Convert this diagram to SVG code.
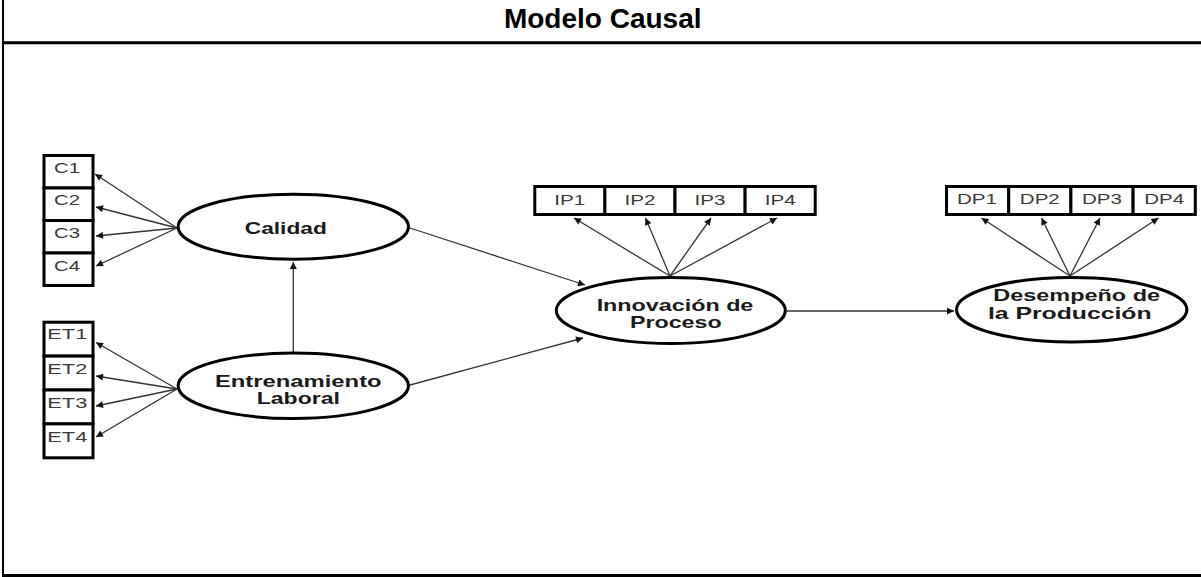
<svg xmlns="http://www.w3.org/2000/svg" width="1201" height="577" viewBox="0 0 1201 577">
  <defs>
    <marker id="arrow" viewBox="0 0 10 10" refX="10" refY="5" markerWidth="9" markerHeight="7" markerUnits="userSpaceOnUse" orient="auto">
      <path d="M0,0 L10,5 L0,10 Z" fill="#111"/>
    </marker>
    <style>
      .frame { stroke: #000; fill: none; }
      .latent { fill: #fff; stroke: #000; stroke-width: 3; }
      .item { fill: #fff; stroke: #000; stroke-width: 3; }
      .path { stroke: #333; stroke-width: 1.3; fill: none; marker-end: url(#arrow); }
      .title { font-family: "Liberation Sans", Arial, sans-serif; font-weight: bold; font-size: 28px; fill: #000; text-anchor: middle; }
      .lname { font-family: "Liberation Sans", Arial, sans-serif; font-weight: bold; font-size: 17px; fill: #1a1a1a; text-anchor: middle; }
      .iname { font-family: "Liberation Sans", Arial, sans-serif; font-size: 15px; fill: #3a3a3a; text-anchor: middle; }
    </style>
  </defs>

  <rect width="1201" height="577" fill="#fff"/>

  <!-- table frame and header -->
  <g id="frame">
    <line class="frame" x1="3" y1="0" x2="3" y2="577" stroke-width="2"/>
    <line class="frame" x1="2" y1="42.7" x2="1201" y2="42.7" stroke-width="3"/>
    <line class="frame" x1="2" y1="575.5" x2="1201" y2="575.5" stroke-width="3"/>
    <text class="title" x="602.7" y="28">Modelo Causal</text>
  </g>

  <!-- connectors -->
  <g id="connectors">
    <!-- Calidad indicators -->
    <line class="path" x1="177" y1="228" x2="95" y2="174"/>
    <line class="path" x1="177" y1="228" x2="96" y2="207"/>
    <line class="path" x1="177" y1="228" x2="96" y2="236"/>
    <line class="path" x1="177" y1="228" x2="96" y2="266"/>
    <!-- Entrenamiento indicators -->
    <line class="path" x1="177" y1="389" x2="96" y2="342.5"/>
    <line class="path" x1="177" y1="389" x2="96" y2="376"/>
    <line class="path" x1="177" y1="389" x2="96" y2="406"/>
    <line class="path" x1="177" y1="389" x2="96" y2="437"/>
    <!-- structural paths -->
    <line class="path" x1="293.3" y1="352" x2="293.3" y2="262"/>
    <line class="path" x1="410" y1="228" x2="585" y2="285"/>
    <line class="path" x1="410" y1="385" x2="583" y2="338"/>
    <line class="path" x1="786.5" y1="311" x2="954" y2="311"/>
    <!-- Innovacion indicators -->
    <line class="path" x1="670" y1="276" x2="574" y2="218"/>
    <line class="path" x1="670" y1="276" x2="645.5" y2="218"/>
    <line class="path" x1="670" y1="276" x2="711" y2="218"/>
    <line class="path" x1="670" y1="276" x2="777" y2="218"/>
    <!-- Desempeno indicators -->
    <line class="path" x1="1070" y1="276" x2="981.5" y2="218"/>
    <line class="path" x1="1070" y1="276" x2="1041.5" y2="218"/>
    <line class="path" x1="1070" y1="276" x2="1100" y2="218"/>
    <line class="path" x1="1070" y1="276" x2="1158.5" y2="218"/>
  </g>

  <!-- latent variables -->
  <g id="calidad">
    <ellipse class="latent" cx="293.3" cy="226.7" rx="115.2" ry="32.5"/>
    <text class="lname" x="285.8" y="234" textLength="82" lengthAdjust="spacingAndGlyphs">Calidad</text>
  </g>
  <g id="entrenamiento">
    <ellipse class="latent" cx="293.3" cy="385.8" rx="115.2" ry="32.7"/>
    <text class="lname" x="298.3" y="386.5" textLength="166.7" lengthAdjust="spacingAndGlyphs">Entrenamiento</text>
    <text class="lname" x="298.3" y="404" textLength="83" lengthAdjust="spacingAndGlyphs">Laboral</text>
  </g>
  <g id="innovacion">
    <ellipse class="latent" cx="670.8" cy="310.5" rx="114.5" ry="33"/>
    <text class="lname" x="675" y="310.5" textLength="156.7" lengthAdjust="spacingAndGlyphs">Innovación de</text>
    <text class="lname" x="675.8" y="328.3" textLength="91.7" lengthAdjust="spacingAndGlyphs">Proceso</text>
  </g>
  <g id="desempeno">
    <ellipse class="latent" cx="1071.7" cy="309.7" rx="115.2" ry="32.2"/>
    <text class="lname" x="1076.7" y="300.5" textLength="166.7" lengthAdjust="spacingAndGlyphs">Desempeño de</text>
    <text class="lname" x="1069.8" y="318.5" textLength="163.7" lengthAdjust="spacingAndGlyphs">la Producción</text>
  </g>

  <!-- Calidad indicators -->
  <g id="c1"><rect class="item" x="44" y="155.5" width="49" height="32.5"/><text class="iname" x="67" y="173.3" textLength="26" lengthAdjust="spacingAndGlyphs">C1</text></g>
  <g id="c2"><rect class="item" x="44" y="188" width="49" height="32.5"/><text class="iname" x="67" y="205.3" textLength="26" lengthAdjust="spacingAndGlyphs">C2</text></g>
  <g id="c3"><rect class="item" x="44" y="220.5" width="49" height="32.5"/><text class="iname" x="67" y="238.3" textLength="26" lengthAdjust="spacingAndGlyphs">C3</text></g>
  <g id="c4"><rect class="item" x="44" y="253" width="49" height="32.5"/><text class="iname" x="67" y="270.7" textLength="26" lengthAdjust="spacingAndGlyphs">C4</text></g>

  <!-- Entrenamiento indicators -->
  <g id="et1"><rect class="item" x="44" y="322.2" width="49" height="33.9"/><text class="iname" x="67.3" y="339.3" textLength="40" lengthAdjust="spacingAndGlyphs">ET1</text></g>
  <g id="et2"><rect class="item" x="44" y="356.1" width="49" height="33.9"/><text class="iname" x="67.3" y="374" textLength="40" lengthAdjust="spacingAndGlyphs">ET2</text></g>
  <g id="et3"><rect class="item" x="44" y="390" width="49" height="33.9"/><text class="iname" x="67.3" y="408" textLength="40" lengthAdjust="spacingAndGlyphs">ET3</text></g>
  <g id="et4"><rect class="item" x="44" y="423.9" width="49" height="33.9"/><text class="iname" x="67.3" y="442.3" textLength="40" lengthAdjust="spacingAndGlyphs">ET4</text></g>

  <!-- Innovacion indicators -->
  <g id="ip1"><rect class="item" x="534.8" y="186.5" width="70.1" height="28"/><text class="iname" x="569.8" y="204.5" textLength="31" lengthAdjust="spacingAndGlyphs">IP1</text></g>
  <g id="ip2"><rect class="item" x="604.9" y="186.5" width="70.1" height="28"/><text class="iname" x="640" y="204.5" textLength="31" lengthAdjust="spacingAndGlyphs">IP2</text></g>
  <g id="ip3"><rect class="item" x="675" y="186.5" width="70.1" height="28"/><text class="iname" x="710" y="204.5" textLength="31" lengthAdjust="spacingAndGlyphs">IP3</text></g>
  <g id="ip4"><rect class="item" x="745.1" y="186.5" width="70.1" height="28"/><text class="iname" x="780.2" y="204.5" textLength="31" lengthAdjust="spacingAndGlyphs">IP4</text></g>

  <!-- Desempeno indicators -->
  <g id="dp1"><rect class="item" x="946.5" y="186.5" width="62.2" height="28"/><text class="iname" x="977" y="204" textLength="40" lengthAdjust="spacingAndGlyphs">DP1</text></g>
  <g id="dp2"><rect class="item" x="1008.7" y="186.5" width="62.2" height="28"/><text class="iname" x="1039.8" y="204" textLength="40" lengthAdjust="spacingAndGlyphs">DP2</text></g>
  <g id="dp3"><rect class="item" x="1070.9" y="186.5" width="62.2" height="28"/><text class="iname" x="1102" y="204" textLength="40" lengthAdjust="spacingAndGlyphs">DP3</text></g>
  <g id="dp4"><rect class="item" x="1133.1" y="186.5" width="62.2" height="28"/><text class="iname" x="1164.2" y="204" textLength="40" lengthAdjust="spacingAndGlyphs">DP4</text></g>
</svg>
